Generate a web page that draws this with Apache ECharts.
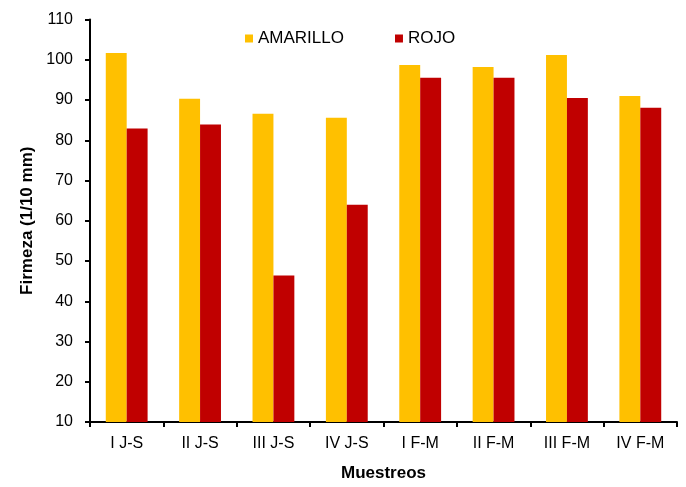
<!DOCTYPE html>
<html>
<head>
<meta charset="utf-8">
<script src="https://cdn.jsdelivr.net/npm/echarts@6/dist/echarts.min.js"></script>
<style>html,body{margin:0;padding:0;background:#fff}#c{width:686px;height:487px}</style>
</head>
<body>
<div id="c"></div>
<script>
var categories = ['I J-S','II J-S','III J-S','IV J-S','I F-M','II F-M','III F-M','IV F-M'];
var amarillo = [101.7, 90.3, 86.6, 85.6, 98.7, 98.2, 101.2, 91.0];
var rojo = [82.9, 83.9, 46.4, 64.0, 95.5, 95.5, 90.5, 88.1];
var seriesNames = ['AMARILLO','ROJO'];

var chart = echarts.init(document.getElementById('c'), null, {renderer:'canvas'});
var font = 'Liberation Sans, Arial, sans-serif';
chart.setOption({
  animation: false,
  backgroundColor: '#fff',
  legend: {
    data: seriesNames,
    left: 245, top: 30, padding: 0,
    itemWidth: 8, itemHeight: 8, itemGap: 51,
    icon: 'rect',
    textStyle: {fontFamily: font, fontSize: 17, color: '#000'}
  },
  grid: {left: 90, right: 9, top: 19.5, bottom: 64, containLabel: false},
  xAxis: {
    type: 'category',
    data: categories,
    name: 'Muestreos',
    nameLocation: 'middle',
    nameGap: 43,
    nameTextStyle: {fontFamily: font, fontSize: 17, fontWeight: 'bold', color: '#000'},
    axisLine: {lineStyle: {color: '#000', width: 2}},
    axisTick: {show: true, length: 5, lineStyle: {color: '#000', width: 2}, alignWithLabel: false},
    axisLabel: {fontFamily: font, fontSize: 16, color: '#000', margin: 14}
  },
  yAxis: {
    type: 'value',
    min: 10, max: 110, interval: 10,
    name: 'Firmeza (1/10 mm)',
    nameLocation: 'middle',
    nameGap: 46,
    nameTextStyle: {fontFamily: font, fontSize: 17, fontWeight: 'bold', color: '#000'},
    axisLine: {show: true, lineStyle: {color: '#000', width: 2}},
    axisTick: {show: true, length: 5, lineStyle: {color: '#000', width: 2}},
    axisLabel: {fontFamily: font, fontSize: 16, color: '#000', margin: 17},
    splitLine: {show: false}
  },
  series: [
    {name: seriesNames[0], type: 'bar', data: amarillo, barGap: '0%', barCategoryGap: '43%', itemStyle: {color: '#FFC000'}},
    {name: seriesNames[1], type: 'bar', data: rojo, itemStyle: {color: '#C00000'}}
  ]
});
</script>
</body>
</html>
